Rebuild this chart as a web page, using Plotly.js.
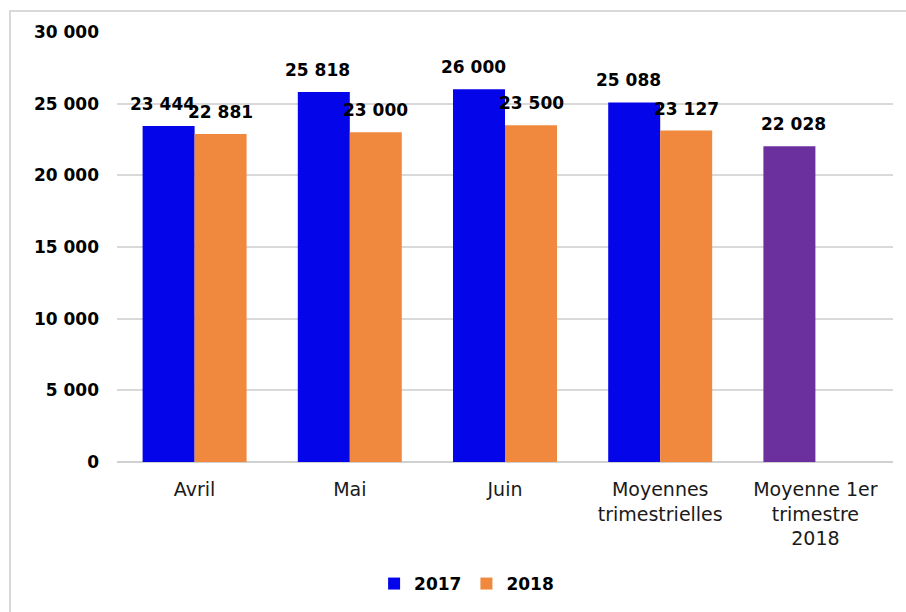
<!DOCTYPE html>
<html>
<head>
<meta charset="utf-8">
<script src="https://cdn.plot.ly/plotly-3.0.1.min.js"></script>
<style>
  html, body { margin: 0; padding: 0; background: #ffffff; }
  #chart { width: 906px; height: 612px; }
</style>
</head>
<body>
<div id="chart"></div>
<script>
const categories = ["Avril", "Mai", "Juin", "Moyennes<br>trimestrielles", "Moyenne 1er<br>trimestre<br>2018"];
const values2017 = [23444, 25818, 26000, 25088, 22028];
const values2018 = [22881, 23000, 23500, 23127, null];
const yTickVals = [0, 5000, 10000, 15000, 20000, 25000, 30000];

const blue = "#0505ea";
const orange = "#f0883e";
const purple = "#6b2f9e";
const colors2017 = values2017.map((v, i) => i === values2017.length - 1 ? purple : blue);

const fmt = v => String(v).replace(/\B(?=(\d{3})+(?!\d))/g, " ");

const labelFont = { family: "DejaVu Sans", size: 17, color: "#000000", weight: "bold" };

const annotations = [];
values2017.forEach((v, i) => {
  if (v === null) return;
  annotations.push({ x: categories[i], y: v, xref: "x", yref: "y", text: "<b>" + fmt(v) + "</b>",
    showarrow: false, xshift: (i === values2017.length - 1 ? -22 : -32), yshift: 22, yanchor: "middle", font: labelFont });
});
values2018.forEach((v, i) => {
  if (v === null) return;
  annotations.push({ x: categories[i], y: v, xref: "x", yref: "y", text: "<b>" + fmt(v) + "</b>",
    showarrow: false, xshift: 26, yshift: 22, yanchor: "middle", font: labelFont });
});

const data = [
  { type: "bar", name: "2017", x: categories, y: values2017, marker: { color: colors2017 }, hoverinfo: "y" },
  { type: "bar", name: "2018", x: categories, y: values2018, marker: { color: orange }, hoverinfo: "y" }
];

// plot area: left 117, right 893, top 32, bottom 462
const pl = 117, pr = 893, pt = 32, pb = 462;
const pw = pr - pl, ph = pb - pt;
const px = X => (X - pl) / pw;
const py = Y => (pb - Y) / ph;

const layout = {
  width: 906,
  height: 612,
  margin: { l: pl, r: 906 - pr, t: pt, b: 612 - pb, pad: 0 },
  paper_bgcolor: "#ffffff",
  plot_bgcolor: "#ffffff",
  separators: ", ",
  barmode: "group",
  bargap: 0.33,
  bargroupgap: 0,
  font: { family: "DejaVu Sans", color: "#000000" },
  showlegend: true,
  legend: {
    orientation: "h",
    xref: "container", yref: "container",
    x: 0.515, xanchor: "center",
    y: 1 - 584 / 612, yanchor: "middle",
    font: { family: "DejaVu Sans", size: 17, weight: "bold", color: "#000000" },
    itemwidth: 30,
    traceorder: "normal"
  },
  xaxis: {
    type: "category",
    tickfont: { family: "DejaVu Sans", size: 19, color: "#1a1a1a" },
    ticks: "",
    ticklabelstandoff: 14,
    showgrid: false,
    showline: false,
    zeroline: false,
    fixedrange: true
  },
  yaxis: {
    range: [0, 30000],
    tickvals: yTickVals,
    ticktext: yTickVals.map(fmt),
    tickfont: { family: "DejaVu Sans", size: 17, weight: "bold", color: "#000000" },
    ticks: "",
    ticklabelstandoff: 17,
    showgrid: true,
    gridcolor: "#d9d9d9",
    gridwidth: 2,
    zeroline: true,
    zerolinecolor: "#d0d0d0",
    zerolinewidth: 2,
    showline: false,
    fixedrange: true
  },
  annotations: annotations,
  shapes: [
    { type: "rect", xref: "paper", yref: "paper",
      x0: px(10), x1: px(920), y0: py(630), y1: py(11),
      line: { color: "#d9d9d9", width: 2 }, fillcolor: "rgba(0,0,0,0)", layer: "below" }
  ]
};

Plotly.newPlot("chart", data, layout, { displayModeBar: false, staticPlot: true });
</script>
</body>
</html>
